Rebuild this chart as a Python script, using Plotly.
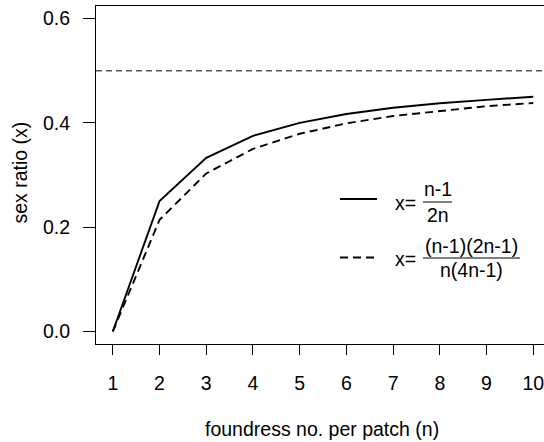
import plotly.graph_objects as go

# Data
n_vals = [1, 2, 3, 4, 5, 6, 7, 8, 9, 10]
x_solid = [0.0, 0.25, 0.333, 0.375, 0.40, 0.417, 0.429, 0.4375, 0.444, 0.45]
x_dashed = [0.0, 0.214, 0.303, 0.35, 0.379, 0.399, 0.413, 0.423, 0.432, 0.438]
ref_level = 0.5
x_ticks = [1, 2, 3, 4, 5, 6, 7, 8, 9, 10]
y_ticks = [0.0, 0.2, 0.4, 0.6]
y_tick_labels = ["0.0", "0.2", "0.4", "0.6"]

W, H = 544, 442
L, T, R, B = 96, 6, 0, 98
PW, PH = W - L - R, H - T - B

FONT = "Liberation Sans, Arial, sans-serif"
FS = 19.5
XR = [0.64, 10.23]
YR = [-0.024, 0.624]


def px(xp):
    return (xp - L) / PW


def py(yp):
    return (H - B - yp) / PH


fig = go.Figure()
fig.add_trace(go.Scatter(x=XR, y=[ref_level, ref_level], mode="lines",
                         line=dict(color="#555555", width=1.4, dash="6px,4px"),
                         showlegend=False, hoverinfo="skip"))
fig.add_trace(go.Scatter(x=n_vals, y=x_solid, mode="lines",
                         line=dict(color="black", width=1.9), showlegend=False))
fig.add_trace(go.Scatter(x=n_vals, y=x_dashed, mode="lines",
                         line=dict(color="black", width=1.9, dash="8px,5px"),
                         showlegend=False))

shapes = []
annotations = []

# legend line samples
shapes.append(dict(type="line", xref="paper", yref="paper",
                   x0=px(340), x1=px(377), y0=py(199), y1=py(199),
                   line=dict(color="black", width=1.9)))
shapes.append(dict(type="line", xref="paper", yref="paper",
                   x0=px(340), x1=px(377), y0=py(257.5), y1=py(257.5),
                   line=dict(color="black", width=1.9, dash="8px,5px")))

# fraction bars
shapes.append(dict(type="line", xref="paper", yref="paper",
                   x0=px(423), x1=px(452), y0=py(202), y1=py(202),
                   line=dict(color="black", width=1)))
shapes.append(dict(type="line", xref="paper", yref="paper",
                   x0=px(423), x1=px(520), y0=py(258), y1=py(258),
                   line=dict(color="black", width=1)))


def txt(s, xp, yp, xanchor="center", size=FS):
    annotations.append(dict(text=s, xref="paper", yref="paper", x=px(xp), y=py(yp),
                            xanchor=xanchor, yanchor="middle", showarrow=False,
                            font=dict(family=FONT, size=size, color="black")))


txt("x=", 405.5, 203)
txt("n-1", 437.5, 189)
txt("2n", 437.5, 215)
txt("x=", 405.5, 259)
txt("(n-1)(2n-1)", 471.5, 246)
txt("n(4n-1)", 471.5, 270)

# axis titles
txt("foundress no. per patch (n)", 322, 429)
annotations.append(dict(text="sex ratio (x)", xref="paper", yref="paper",
                        x=px(19.5), y=py(173), textangle=-90, showarrow=False,
                        xanchor="center", yanchor="middle",
                        font=dict(family=FONT, size=FS, color="black")))

fig.update_layout(
    width=W, height=H,
    margin=dict(l=L, r=R, t=T, b=B, pad=0),
    paper_bgcolor="white", plot_bgcolor="white",
    font=dict(family=FONT, size=FS, color="black"),
    shapes=shapes, annotations=annotations,
    xaxis=dict(range=XR, tickvals=x_ticks, ticktext=[str(v) for v in x_ticks],
               showgrid=False, zeroline=False, showline=True, linecolor="black", linewidth=1,
               mirror=True, ticks="outside", ticklen=10, tickcolor="black", tickwidth=1,
               ticklabelstandoff=12, ticklabeloverflow="allow"),
    yaxis=dict(range=YR, tickvals=y_ticks, ticktext=y_tick_labels,
               showgrid=False, zeroline=False, showline=True, linecolor="black", linewidth=1,
               ticks="outside", ticklen=12, tickcolor="black", tickwidth=1,
               ticklabelstandoff=9),
)

fig.write_html("out.html")
